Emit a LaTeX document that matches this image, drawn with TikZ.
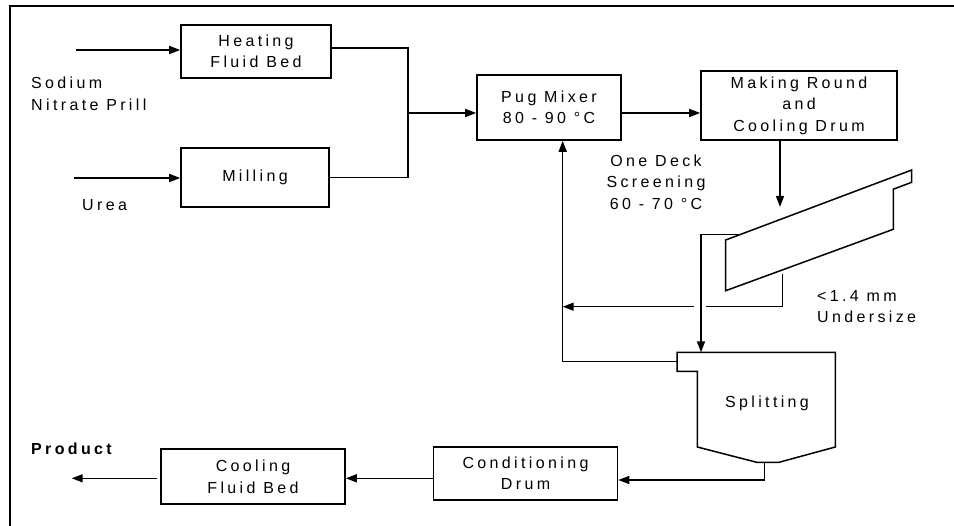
\documentclass[tikz,border=0pt]{standalone}
\usepackage{fontspec}
\setmainfont{Liberation Sans}[LetterSpace=21]
\usetikzlibrary{arrows.meta}
\begin{document}
\begin{tikzpicture}[x=1pt,y=-1pt,
  txt/.style={font=\fontsize{16}{21.5}\selectfont},
  box/.style={draw,line width=1.6pt,txt,align=center,inner sep=0pt},
  lbl/.style={txt,inner sep=0pt},
  ln/.style={line width=1.5pt},
  arr/.style={line width=1.5pt,-{Triangle[length=11pt,width=8pt]}},
  frame/.style={line width=2.8pt}
]
\useasboundingbox (0,0) rectangle (954,526);
% frame
\coordinate (fa) at (10,526);
\coordinate (fb) at (10,6);
\coordinate (fc) at (954,6);
\draw[frame] (fa) -- (fb) -- (fc);

% boxes
\node[box,minimum width=150,minimum height=53] (heat) at (256,51.5) {Heating\\Fluid Bed};
\node[box,minimum width=148,minimum height=59] (mill) at (255,177.5) {Milling};
\node[box,minimum width=144,minimum height=65] (pug) at (549,107.5) {Pug Mixer\\80 - 90 °C};
\node[box,minimum width=196,minimum height=69] (make) at (799,105.5) {Making Round\\and\\Cooling Drum};
\node[box,minimum width=184,minimum height=53] (cond) at (525.5,473.3) {Conditioning\\Drum};
\node[box,minimum width=184,minimum height=55] (cool) at (253,476.7) {Cooling\\Fluid Bed};

% labels
\node[lbl,anchor=west,align=left] (sod) at (31,94) {Sodium\\Nitrate Prill};
\node[lbl,anchor=west] (urea) at (82,205.5) {Urea};
\node[lbl,align=center] (odk) at (656,182) {One Deck\\Screening\\60 - 70 °C};
\node[lbl,anchor=west,align=left] (und) at (817,306.5) {<1.4 mm\\Undersize};
\node[lbl,anchor=west,font=\fontsize{16}{21.5}\selectfont\bfseries] (prod) at (31,448.5) {Product};

% inputs
\coordinate (in1) at (76,50);
\coordinate (in2) at (74,178);
\draw[arr] (in1) -- (in1 -| heat.west);
\draw[arr] (in2) -- (in2 -| mill.west);

% merge to pug mixer
\coordinate (j) at (408,113);
\draw[ln] ([yshift=3.5pt]heat.east) -| (j);
\draw[ln] (mill.east) -| (j);
\draw[arr] (j) -- (j -| pug.west);
\draw[arr] (pug.east |- j) -- (make.west |- j);

% screen
\coordinate (s1) at (725.7,240);
\coordinate (s2) at (911.7,170);
\coordinate (s3) at (911.7,182.3);
\coordinate (s4) at (893.3,189.2);
\coordinate (s5) at (893.3,229.3);
\coordinate (s6) at (725.7,290.7);
\draw[ln] (s1) -- (s2) -- (s3) -- (s4) -- (s5) -- (s6) -- cycle;

\coordinate (sin) at (780,207);
\draw[arr] (make.south -| sin) -- (sin);

% splitting vessel
\coordinate (p1) at (677,352.3);
\coordinate (p2) at (835.3,352.3);
\coordinate (p3) at (835.3,447);
\coordinate (p4) at (779,462.3);
\coordinate (p5) at (756.7,462.3);
\coordinate (p6) at (697.3,447);
\coordinate (p7) at (697.3,371.3);
\coordinate (p8) at (677,371.3);
\draw[ln] (p1) -- (p2) -- (p3) -- (p4) -- (p5) -- (p6) -- (p7) -- (p8) -- cycle;
\node[lbl] (split) at (767,403) {Splitting};

% oversize to splitting
\coordinate (ov) at (738,234.5);
\coordinate (sptop) at (701,352.3);
\draw[arr] (ov) -| (sptop);

% undersize recycle
\coordinate (us) at (782.7,274);
\coordinate (uc) at (782.7,306.7);
\coordinate (gapR) at (706,306.7);
\coordinate (gapL) at (694,306.7);
\coordinate (rc) at (562.7,361.7);
\draw[ln] (us) -- (uc) -- (gapR);
\draw[arr] (gapL) -- (rc |- gapL);
\draw[arr] (p1 |- rc) -- (rc) -- (rc |- pug.south);

% splitting outlet
\coordinate (so) at (764.3,462.3);
\coordinate (so2) at (764.3,480);
\draw[arr] (so) -- (so2) -- (so2 -| cond.east);

% to product
\coordinate (pa) at (71.7,478.3);
\draw[arr] (cond.west |- pa) -- (cool.east |- pa);
\draw[arr] ([xshift=-3pt]cool.west |- pa) -- (pa);
\end{tikzpicture}
\end{document}
